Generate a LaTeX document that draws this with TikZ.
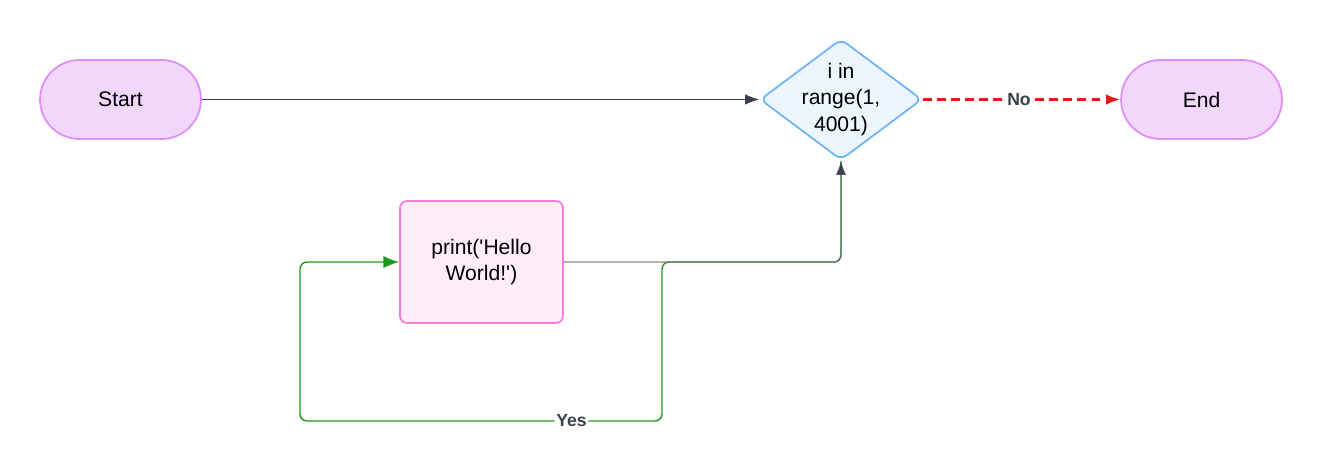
\documentclass[tikz,border=0pt]{standalone}
\usepackage{fontspec}
\setmainfont{Liberation Sans}
\usetikzlibrary{shapes.geometric, arrows.meta}

\definecolor{termfill}{HTML}{F2D7FC}
\definecolor{termline}{HTML}{E08DF5}
\definecolor{decfill}{HTML}{EDF5FF}
\definecolor{decline}{HTML}{6FB3F5}
\definecolor{procfill}{HTML}{FFEEFA}
\definecolor{procline}{HTML}{F47DDC}
\definecolor{edgedark}{HTML}{3A414A}
\definecolor{edgegray}{HTML}{6E6E6E}
\definecolor{edgegreen}{HTML}{1E9A1E}
\definecolor{edgered}{HTML}{E6191B}

\begin{document}
\begin{tikzpicture}[x=0.02cm, y=-0.02cm,
    every node/.style={font=\fontsize{12}{15.3}\selectfont},
    terminal/.style={draw=termline, fill=termfill, line width=1pt, rounded corners=0.79cm,
        minimum width=3.22cm, minimum height=1.58cm},
    decision/.style={diamond, draw=decline, fill=decfill, line width=1pt, rounded corners=4pt,
        minimum width=3.24cm, minimum height=2.42cm, inner sep=-12pt, align=center},
    process/.style={draw=procline, fill=procfill, line width=1pt, rounded corners=4pt,
        minimum width=3.26cm, minimum height=2.44cm, align=center},
    edgelabel/.style={fill=white, inner sep=1pt, text=edgedark,
        font=\bfseries\fontsize{10}{12}\selectfont}]
    \useasboundingbox (0,0) rectangle (1322,474);

    \node[terminal] (start) at (120.5,99.5) {Start};
    \node[decision] (loop) at (841,99.5) {i in\\range(1,\\4001)};
    \node[terminal] (end) at (1201.5,99.5) {End};
    \node[process] (body) at (481.5,262) {print(\textquotesingle Hello\\World!\textquotesingle)};

    % connectors
    \draw[edgedark, line width=0.6pt, -{Latex[length=8pt,width=6pt]}] (start) -- (loop);
    \draw[draw=edgered, line width=1.2pt, dash pattern=on 5pt off 3pt,
        -{Latex[length=8pt,width=6pt]}] (loop.east) -- (end.west);
    \node[edgelabel] (nolbl) at (1019,99.5) {No};
    \draw[edgegreen, line width=0.8pt, rounded corners=4pt, -{Latex[length=9pt,width=7pt]}]
        (loop.south) |- (662,262) -- (662,421) -- node[edgelabel,pos=0.25]{Yes} (300,421) |- (body.west);
    \draw[edgegray, draw opacity=0.8, line width=0.8pt, rounded corners=4pt,
        -{Latex[length=8pt,width=6pt,color=edgedark]}] (body.east) -| (loop.south);
\end{tikzpicture}
\end{document}
